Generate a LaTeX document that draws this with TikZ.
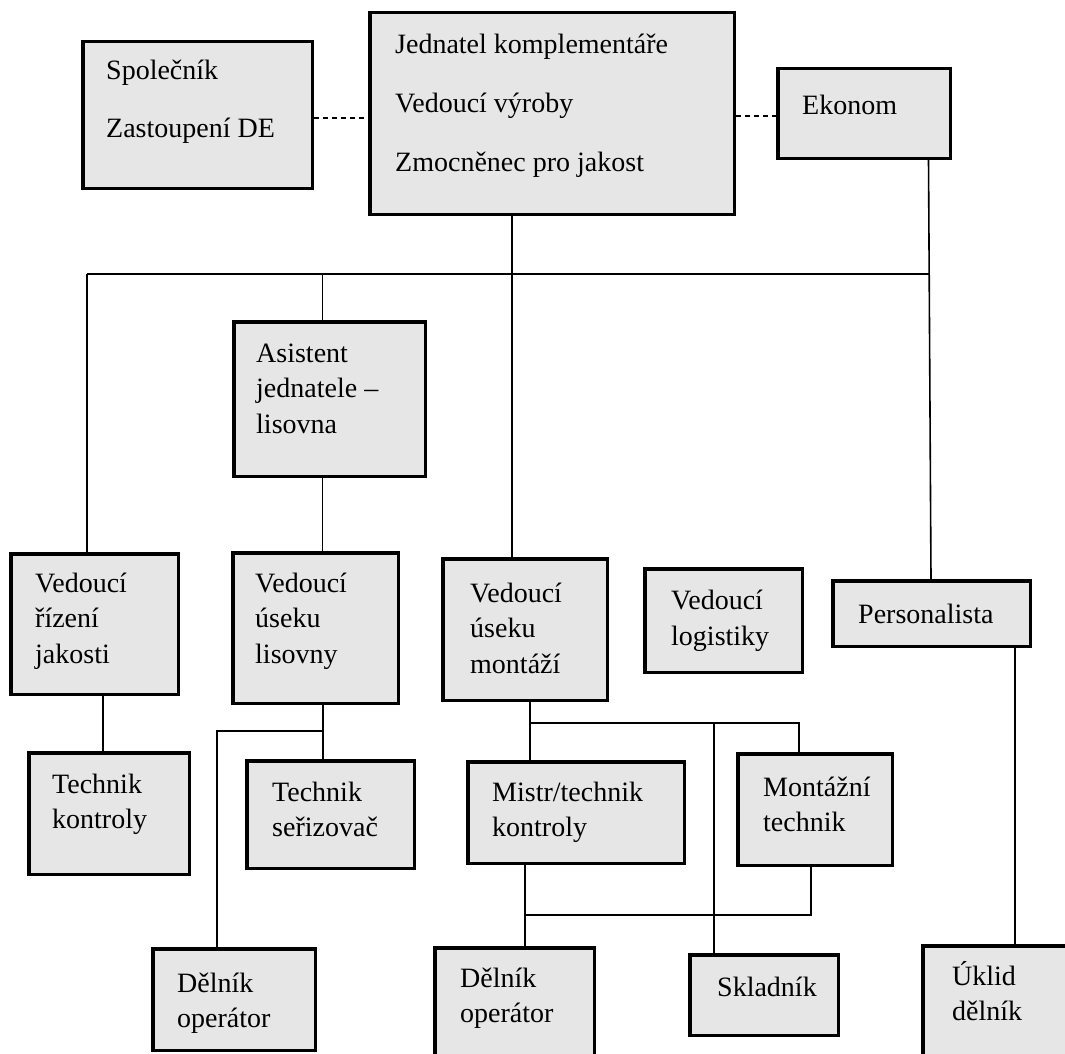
\documentclass[tikz,border=0pt]{standalone}
\usepackage{fontspec}
\setmainfont{Liberation Serif}
\usetikzlibrary{calc}
\definecolor{boxfill}{RGB}{230,230,230}
\tikzset{
  orgbox/.style={draw=black, line width=3.5pt, fill=boxfill, inner sep=0pt, rectangle},
  txt/.style={anchor=base west, align=left, inner sep=0pt, font=\fontsize{28}{35.5}\selectfont},
  widetxt/.style={txt, font=\fontsize{28}{58.5}\selectfont},
  conn/.style={line width=1.6pt, draw=black},
  dashconn/.style={line width=1.6pt, draw=black, dash pattern=on 5pt off 4pt},
}
\newcommand\obox[5]{\node[orgbox, minimum width=#4pt, minimum height=#5pt] (#1) at (#2,#3) {};}
\begin{document}
\begin{tikzpicture}[x=1pt,y=-1pt]
\useasboundingbox (0,0) rectangle (1065,1054);
\clip (0,0) rectangle (1065,1054);
\fill[white] (0,0) rectangle (1065,1054);

% boxes
\obox{spol}{197.5}{115}{229.5}{146.5}
\obox{jed}{552}{113.5}{364.5}{201.5}
\obox{eko}{864}{113.5}{172.5}{89.5}
\obox{asis}{329.5}{399}{191.5}{154.5}
\obox{vrj}{94.5}{624}{167.5}{140.5}
\obox{vul}{315.5}{628}{165.5}{150.5}
\obox{vum}{525}{629.5}{164.5}{141.5}
\obox{vlog}{723.5}{620.5}{157.5}{103.5}
\obox{pers}{931.5}{613.5}{197.5}{65.5}
\obox{tk}{109}{813.5}{160.5}{121.5}
\obox{ts}{330.5}{814.5}{167.5}{107.5}
\obox{dob}{234}{999.5}{162.5}{101.5}
\obox{mistr}{576}{812.5}{216.5}{101.5}
\obox{doc}{514.5}{1008}{159.5}{120.5}
\obox{skl}{764}{995}{148.5}{80.5}
\obox{mont}{815}{809.5}{154.5}{111.5}
\obox{ukl}{998}{1007}{150.5}{122.5}

% texts (anchor = baseline of the last line)
\node[widetxt] (spolT) at (106,137.5) {Společník\\Zastoupení DE};
\node[widetxt] (jedT) at (395,171) {Jednatel komplementáře\\Vedoucí výroby\\Zmocněnec pro jakost};
\node[txt] (ekoT) at (802,115) {Ekonom};
\node[txt] (asisT) at (256,433) {Asistent\\jednatele –\\lisovna};
\node[txt] (vrjT) at (35,663) {Vedoucí\\řízení\\jakosti};
\node[txt] (vulT) at (255,663) {Vedoucí\\úseku\\lisovny};
\node[txt] (vumT) at (470,673) {Vedoucí\\úseku\\montáží};
\node[txt] (vlogT) at (671,645) {Vedoucí\\logistiky};
\node[txt] (persT) at (858,623) {Personalista};
\node[txt] (tkT) at (52,828.5) {Technik\\kontroly};
\node[txt] (tsT) at (272,836.5) {Technik\\seřizovač};
\node[txt] (dobT) at (177,1027.5) {Dělník\\operátor};
\node[txt] (mistrT) at (492,836.5) {Mistr/technik\\kontroly};
\node[txt] (docT) at (460,1022.5) {Dělník\\operátor};
\node[txt] (montT) at (763,831.5) {Montážní\\technik};
\node[txt] (sklT) at (717,996) {Skladník};
\node[txt] (uklT) at (952,1020.5) {Úklid\\dělník};

% helper coordinates
\coordinate (d1) at (0,118);
\coordinate (d2) at (0,116);
\coordinate (busL) at (87,274);
\coordinate (busR) at (929.5,274);
\coordinate (xA) at (322.5,0);
\coordinate (xJ) at (512,0);
\coordinate (e1) at (928.5,0);
\coordinate (e2) at (931,0);
\coordinate (xTK) at (103,0);
\coordinate (xS) at (323,0);
\coordinate (jS) at (323,731);
\coordinate (xD) at (217,0);
\coordinate (jM) at (530,723);
\coordinate (xMo) at (799,0);
\coordinate (xSk) at (714,0);
\coordinate (xMi) at (525,0);
\coordinate (yLow) at (0,915);
\coordinate (xMt) at (811,0);
\coordinate (xU) at (1015,0);

% connectors
\draw[dashconn] (spol.east |- d1) -- (jed.west |- d1);
\draw[dashconn] (jed.east |- d2) -- (eko.west |- d2);
\draw[conn] (busL) -- (busR);
\draw[conn] (busL) -- (vrj.north -| busL);
\draw[conn] (xA |- busL) -- (asis.north -| xA);
\draw[conn] (asis.south -| xA) -- (vul.north -| xA);
\draw[conn] (jed.south -| xJ) -- (vum.north -| xJ);
\draw[conn] (eko.south -| e1) -- (pers.north -| e2);
\draw[conn] (vrj.south -| xTK) -- (tk.north -| xTK);
\draw[conn] (vul.south -| xS) -- (ts.north -| xS);
\draw[conn] (jS) -| (dob.north -| xD);
\draw[conn] (vum.south -| jM) -- (mistr.north -| jM);
\draw[conn] (jM) -| (mont.north -| xMo);
\draw[conn] (xSk |- jM) -- (skl.north -| xSk);
\draw[conn] (mistr.south -| xMi) -- (doc.north -| xMi);
\draw[conn] (xMi |- yLow) -| (mont.south -| xMt);
\draw[conn] (pers.south -| xU) -- (ukl.north -| xU);
\end{tikzpicture}
\end{document}
